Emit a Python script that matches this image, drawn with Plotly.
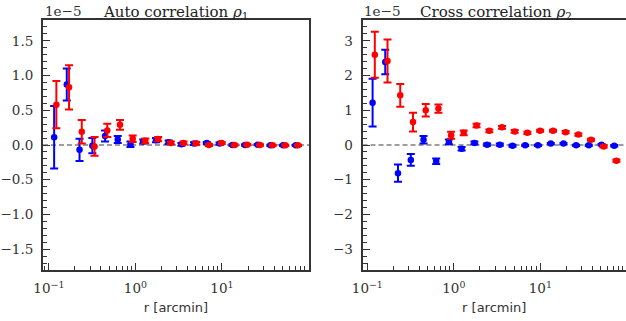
import plotly.graph_objects as go

# separation r [arcmin]
r_blue = [0.115, 0.161, 0.226, 0.318, 0.446, 0.625, 0.877, 1.23, 1.73, 2.42,
          3.40, 4.76, 6.68, 9.38, 13.2, 18.5, 25.9, 36.3, 50.9, 71.4]
r_red = [0.122, 0.171, 0.240, 0.337, 0.473, 0.663, 0.930, 1.30, 1.83, 2.57,
         3.60, 5.05, 7.08, 9.94, 14.0, 19.6, 27.5, 38.5, 54.0, 75.7]

# Auto correlation rho_1 (units of 1e-5)
auto_blue = [0.11, 0.87, -0.07, -0.01, 0.13, 0.08, 0.01, 0.05, 0.07, 0.04,
             0.01, 0.02, 0.03, 0.02, 0.0, 0.0, 0.005, -0.005, -0.005, -0.005]
auto_blue_err = [0.45, 0.23, 0.16, 0.11, 0.08, 0.05, 0.04, 0.03, 0.03, 0.025,
                 0.02, 0.02, 0.015, 0.015, 0.01, 0.01, 0.01, 0.01, 0.01, 0.01]
auto_red = [0.58, 0.83, 0.19, -0.02, 0.21, 0.29, 0.09, 0.06, 0.085, 0.03,
            0.03, 0.025, 0.0, 0.03, 0.0, 0.005, 0.0, -0.005, -0.005, -0.005]
auto_red_err = [0.34, 0.32, 0.17, 0.135, 0.095, 0.07, 0.048, 0.035, 0.03, 0.02,
                0.02, 0.02, 0.015, 0.015, 0.01, 0.01, 0.01, 0.01, 0.01, 0.01]

# Cross correlation rho_2 (units of 1e-5)
cross_blue = [1.22, 2.39, -0.81, -0.43, 0.15, -0.47, 0.09, -0.11, 0.06, 0.01,
              0.01, -0.02, -0.01, -0.01, 0.04, 0.04, -0.01, -0.01, 0.01, -0.02]
cross_blue_err = [0.69, 0.35, 0.25, 0.17, 0.11, 0.08, 0.07, 0.05, 0.04, 0.03,
                  0.03, 0.03, 0.02, 0.02, 0.02, 0.02, 0.02, 0.02, 0.02, 0.02]
cross_red = [2.60, 2.42, 1.43, 0.66, 1.00, 1.05, 0.28, 0.35, 0.56, 0.41,
             0.51, 0.39, 0.35, 0.41, 0.41, 0.37, 0.30, 0.15, -0.04, -0.45]
cross_red_err = [0.66, 0.62, 0.33, 0.27, 0.18, 0.12, 0.10, 0.07, 0.05, 0.04,
                 0.04, 0.04, 0.03, 0.03, 0.03, 0.03, 0.03, 0.03, 0.03, 0.03]

titles = ["Auto correlation <i>ρ</i><sub>1</sub>", "Cross correlation <i>ρ</i><sub>2</sub>"]
xtick_vals = [0.1, 1, 10]
xtick_text = ["10<sup>−1</sup>", "10<sup>0</sup>", "10<sup>1</sup>"]
x_minor = [0.09] + [k * 0.1 for k in range(2, 10)] + list(range(2, 10)) + [k * 10 for k in range(2, 10)]

W, H = 626, 321
fig = go.Figure()

def add_series(x, y, err, color, xa, ya):
    fig.add_trace(go.Scatter(
        x=x, y=y, mode="markers", xaxis=xa, yaxis=ya,
        marker=dict(color=color, size=6.5),
        error_y=dict(type="data", array=err, color=color, thickness=2, width=4),
        showlegend=False, cliponaxis=True))

add_series(r_blue, auto_blue, auto_blue_err, "#0000ff", "x", "y")
add_series(r_red, auto_red, auto_red_err, "#ff0000", "x", "y")
add_series(r_blue, cross_blue, cross_blue_err, "#0000ff", "x2", "y2")
add_series(r_red, cross_red, cross_red_err, "#ff0000", "x2", "y2")

ydom = [51 / H, 301 / H]
serif = "DejaVu Serif"
axcol = "#333333"
tfont = dict(family=serif, size=13.5, color="#333333")

common_x = dict(type="log", tickmode="array", tickvals=xtick_vals, ticktext=xtick_text,
                ticks="inside", ticklen=7, tickwidth=1, tickcolor=axcol,
                showline=True, linecolor=axcol, linewidth=2, mirror=True,
                showgrid=False, zeroline=False, ticklabelstandoff=5, automargin=False,
                tickfont=tfont,
                minor=dict(ticks="inside", ticklen=4, tickwidth=1, tickcolor=axcol,
                           tickvals=x_minor, showgrid=False),
                title=dict(text="r [arcmin]", font=dict(family="DejaVu Sans", size=13, color="#333333"),
                           standoff=8))

common_y = dict(ticks="inside", ticklen=7, tickwidth=1, tickcolor=axcol,
                showline=True, linecolor=axcol, linewidth=2, automargin=False,
                showgrid=False, zeroline=False, ticklabelstandoff=5, tickfont=tfont)

fig.update_layout(
    width=W, height=H, margin=dict(l=0, r=0, t=0, b=0, autoexpand=False),
    plot_bgcolor="white", paper_bgcolor="white",
    xaxis=dict(domain=[43 / W, 309 / W], range=[-1.068, 2.006], anchor="y", **common_x),
    xaxis2=dict(domain=[362.5 / W, 1.0], range=[-1.056, 1.99], anchor="y2", **common_x),
    yaxis=dict(domain=ydom, range=[-1.8, 1.8], anchor="x", mirror=True,
               tickvals=[-1.5, -1.0, -0.5, 0.0, 0.5, 1.0, 1.5],
               ticktext=["−1.5", "−1.0", "−0.5", "0.0", "0.5", "1.0", "1.5"],
               minor=dict(ticks="inside", ticklen=4, tickwidth=1, tickcolor=axcol, dtick=0.1, showgrid=False),
               **common_y),
    yaxis2=dict(domain=ydom, range=[-3.6, 3.6], anchor="x2", mirror=False,
                tickvals=[-3, -2, -1, 0, 1, 2, 3],
                ticktext=["−3", "−2", "−1", "0", "1", "2", "3"],
                minor=dict(ticks="inside", ticklen=4, tickwidth=1, tickcolor=axcol, dtick=0.2, showgrid=False),
                **common_y),
)

# dashed zero lines
for xr, yr in [("x domain", "y"), ("x2 domain", "y2")]:
    fig.add_shape(type="line", xref=xr, yref=yr, x0=0, x1=1, y0=0, y1=0,
                  line=dict(color="#7f7f7f", width=1.3, dash="5px,3px"), layer="below")

# titles and offset text
fig.add_annotation(text=titles[0], xref="paper", yref="paper", x=(43 + 309) / 2 / W, y=(H - 1) / H,
                   xanchor="center", yanchor="top", showarrow=False,
                   font=dict(family=serif, size=15, color="#222222"))
fig.add_annotation(text=titles[1], xref="paper", yref="paper", x=(362.5 + 629) / 2 / W, y=(H - 1) / H,
                   xanchor="center", yanchor="top", showarrow=False,
                   font=dict(family=serif, size=15, color="#222222"))
for x0 in [43, 362.5]:
    fig.add_annotation(text="1e−5", xref="paper", yref="paper", x=x0 / W, y=(H - 1) / H,
                       xanchor="left", yanchor="top", showarrow=False,
                       font=dict(family=serif, size=13.5, color="#333333"))

fig.write_html("out.html")
